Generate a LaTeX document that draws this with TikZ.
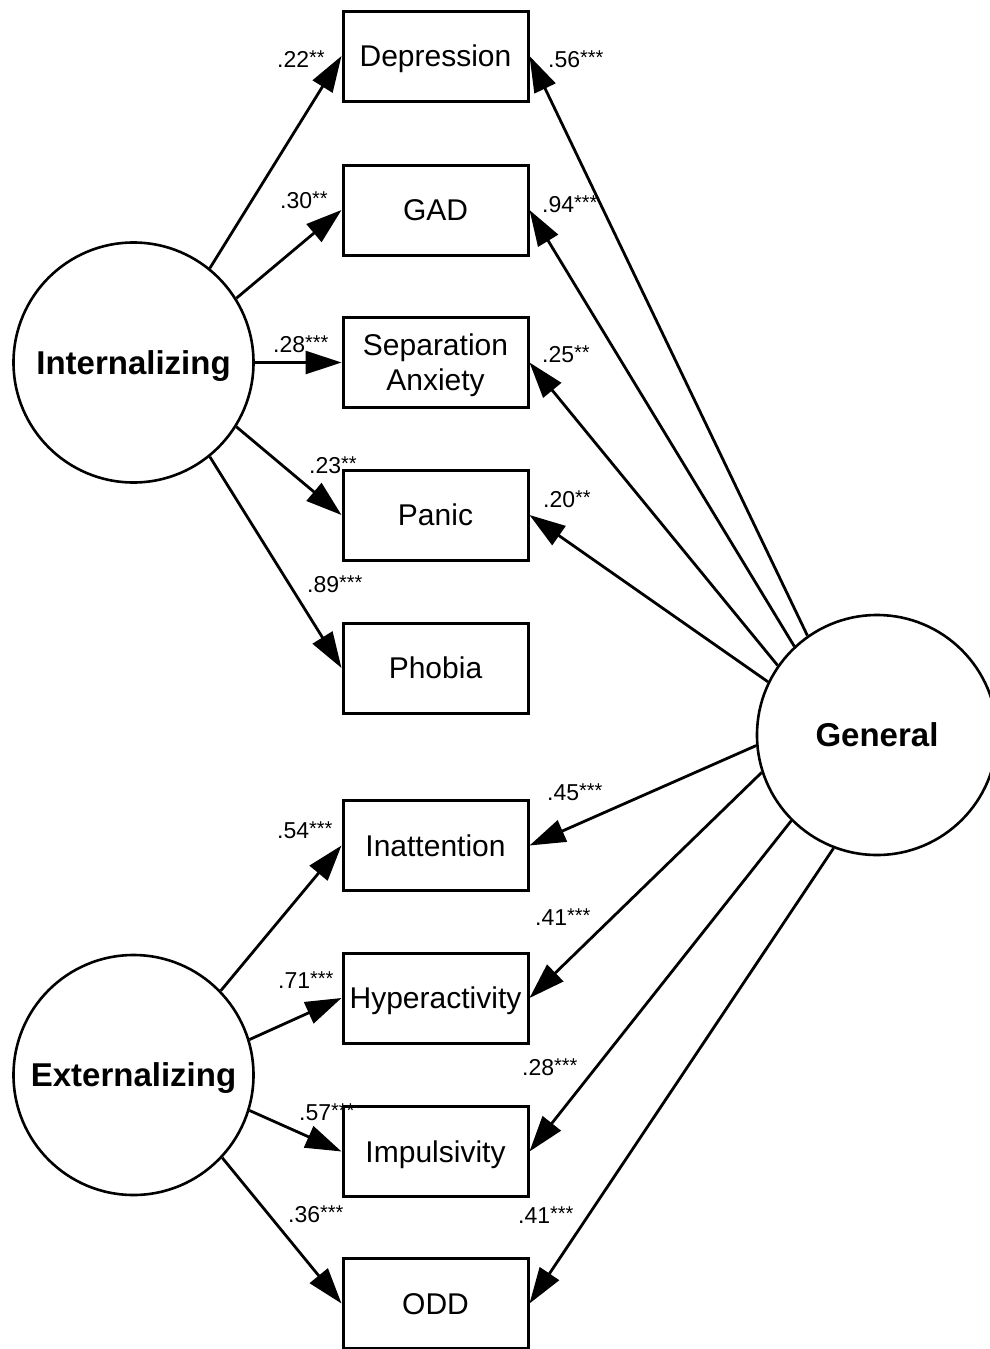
\documentclass[tikz,border=0pt]{standalone}
\usepackage{fontspec}
\setmainfont{Liberation Sans}
\usetikzlibrary{arrows.meta}
\newcommand{\coef}[2]{#1\raisebox{3pt}{\fontsize{20}{20}\selectfont #2}}
\tikzset{
  obs/.style={draw, line width=3pt, minimum width=185pt, minimum height=90pt, inner sep=0pt,
              font=\fontsize{30}{35}\selectfont, align=center, text height=21.5pt, text depth=0pt},
  lat/.style={draw, circle, line width=2.6pt, minimum size=240pt, inner sep=0pt,
              font=\fontsize{33}{36}\selectfont\bfseries, text height=23.6pt, text depth=0pt},
  path/.style={line width=2.8pt, -{Triangle[length=36pt,width=23pt]}},
  coeflbl/.style={anchor=base west, inner sep=0pt, font=\fontsize{23}{25}\selectfont}
}
\begin{document}
\begin{tikzpicture}[x=1pt,y=-1pt]
\useasboundingbox (0,0) rectangle (990,1349);
\fill[white] (0,0) rectangle (990,1349);

% observed boxes
\node[obs] (dep) at (435.5,56) {Depression};
\node[obs] (gad) at (435.5,210) {GAD};
\node[obs, text height=56.5pt, text depth=0pt] (sep) at (435.5,362.5) {Separation\\Anxiety};
\node[obs] (pan) at (435.5,515) {Panic};
\node[obs] (pho) at (435.5,668) {Phobia};
\node[obs] (ina) at (435.5,845.5) {Inattention};
\node[obs] (hyp) at (435.5,998) {Hyperactivity};
\node[obs] (imp) at (435.5,1151.5) {Impulsivity};
\node[obs] (odd) at (435.5,1303.5) {ODD};

% latent circles
\node[lat] (int) at (133.5,362.5) {Internalizing};
\node[lat] (ext) at (133.5,1075) {Externalizing};
\node[lat] (gen) at (877,735) {General};

% internalizing paths
\draw[path] (int.51.5) -- (dep.west);
\draw[path] (int.32.5) -- (gad.west);
\draw[path] (int.0) -- (sep.west);
\draw[path] (int.-32.5) -- (pan.west);
\draw[path] (int.-51.5) -- (pho.west);

% externalizing paths
\draw[path] (ext.44) -- (ina.west);
\draw[path] (ext.17.7) -- (hyp.west);
\draw[path] (ext.-17.7) -- (imp.west);
\draw[path] (ext.-43) -- (odd.west);

% general paths
\draw[path] (gen.125.8) -- (dep.east);
\draw[path] (gen.133.3) -- (gad.east);
\draw[path] (gen.145.2) -- (sep.east);
\draw[path] (gen.154.5) -- (pan.east);
\draw[path] (gen.185.8) -- (ina.east);
\draw[path] (gen.198) -- (hyp.east);
\draw[path] (gen.225.7) -- (imp.east);
\draw[path] (gen.249.6) -- (odd.east);

% coefficients
\node[coeflbl] (c1) at (277,67) {\coef{.22}{**}};
\node[coeflbl] (c2) at (280,208) {\coef{.30}{**}};
\node[coeflbl] (c3) at (273,352) {\coef{.28}{***}};
\node[coeflbl] (c4) at (309,473) {\coef{.23}{**}};
\node[coeflbl] (c5) at (307,592) {\coef{.89}{***}};
\node[coeflbl] (c6) at (277,838) {\coef{.54}{***}};
\node[coeflbl] (c7) at (278,988) {\coef{.71}{***}};
\node[coeflbl] (c8) at (299,1120) {\coef{.57}{***}};
\node[coeflbl] (c9) at (288,1222) {\coef{.36}{***}};

\node[coeflbl] (g1) at (548,67) {\coef{.56}{***}};
\node[coeflbl] (g2) at (542,212) {\coef{.94}{***}};
\node[coeflbl] (g3) at (542,362) {\coef{.25}{**}};
\node[coeflbl] (g4) at (543,507) {\coef{.20}{**}};
\node[coeflbl] (g5) at (547,800) {\coef{.45}{***}};
\node[coeflbl] (g6) at (535,925) {\coef{.41}{***}};
\node[coeflbl] (g7) at (522,1075) {\coef{.28}{***}};
\node[coeflbl] (g8) at (518,1223) {\coef{.41}{***}};
\end{tikzpicture}
\end{document}
